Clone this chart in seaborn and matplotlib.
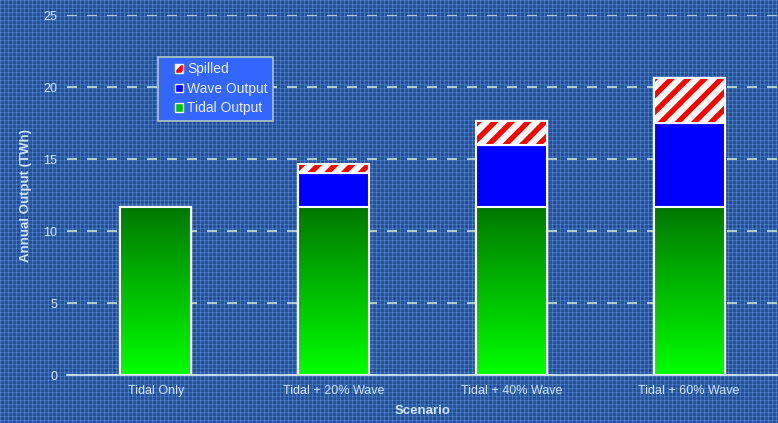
import numpy as np
import pandas as pd
import matplotlib
matplotlib.use("Agg")
import matplotlib.pyplot as plt
import matplotlib.patches as mpatches
from matplotlib.legend_handler import HandlerPatch
import seaborn as sns

scenarios = ["Tidal Only", "Tidal + 20% Wave", "Tidal + 40% Wave", "Tidal + 60% Wave"]
tidal = [11.65, 11.65, 11.65, 11.65]
wave = [0.0, 2.4, 4.35, 5.85]
spilled = [0.0, 0.6, 1.65, 3.1]
yticks = [0, 5, 10, 15, 20, 25]

sns.set_theme(style="white")
plt.rcParams['font.family'] = ['Liberation Sans', 'DejaVu Sans']
plt.rcParams['hatch.linewidth'] = 3.8
plt.rcParams['hatch.color'] = '#ff0000'

txt = '#cfe3f2'
W, H = 778, 423
fig = plt.figure(figsize=(W / 100, H / 100), dpi=100)

# textured blue background
yy, xx = np.mgrid[0:H, 0:W]
base = np.array([40, 82, 150], dtype=float)
img = np.tile(base, (H, W, 1))
img[(xx % 4 == 0)] += [25, 30, 35]
img[(yy % 4 == 0)] += [20, 25, 30]
img[(xx % 8 == 2) & (yy % 8 == 2)] -= [25, 35, 50]
img = np.clip(img, 0, 255).astype(np.uint8)
fig.figimage(img, xo=0, yo=0, zorder=-10)
fig.patch.set_alpha(0)

ax = fig.add_axes([67 / W, 48 / H, 1 - 67 / W, (375 - 15) / H])
ax.set_facecolor('none')

df = pd.DataFrame({
    "Scenario": scenarios,
    "total": np.array(tidal) + np.array(wave) + np.array(spilled),
    "tw": np.array(tidal) + np.array(wave),
    "tidal": tidal,
    "spilled": spilled,
})

sns.barplot(data=df, x="Scenario", y="total", color="white", saturation=1,
            width=0.4, edgecolor="white", linewidth=1.5, ax=ax)
sns.barplot(data=df, x="Scenario", y="tw", color="#0000ff", saturation=1,
            width=0.4, edgecolor="white", linewidth=1.5, ax=ax)
sns.barplot(data=df, x="Scenario", y="tidal", color="#00aa00", saturation=1,
            width=0.4, edgecolor="white", linewidth=1.5, ax=ax)

# red diagonal hatch on the spilled segment only
for p, base_v, sp in zip(ax.containers[0].patches, df["tw"], df["spilled"]):
    if sp <= 0:
        continue
    hp = mpatches.Rectangle((p.get_x(), base_v), p.get_width(), sp,
                            facecolor='none', edgecolor='#ff0000', linewidth=0,
                            hatch='//', zorder=p.get_zorder() + 0.05)
    hp.set_clip_path(p)
    ax.add_patch(hp)
    outline = mpatches.Rectangle((p.get_x(), base_v), p.get_width(), sp,
                                 facecolor='none', edgecolor='white', linewidth=1.5,
                                 zorder=p.get_zorder() + 0.06)
    ax.add_patch(outline)

# gradient on tidal bars
grad = np.linspace(0, 1, 256).reshape(-1, 1)
cmap = matplotlib.colors.LinearSegmentedColormap.from_list("g", ["#00ff00", "#007800"])
for p in ax.containers[2].patches:
    x0, y0 = p.get_x(), p.get_y()
    w, h = p.get_width(), p.get_height()
    im = ax.imshow(grad, cmap=cmap, aspect='auto', origin='lower',
                   extent=[x0, x0 + w, y0, y0 + h], zorder=p.get_zorder() + 0.1)
    im.set_clip_path(p)
    p.set_zorder(p.get_zorder() + 0.2)
    p.set_facecolor('none')

ax.set_xlim(-0.5, 3.5)
ax.set_ylim(0, 25)
ax.set_yticks(yticks)
ax.set_yticklabels([str(v) for v in yticks])
ax.yaxis.grid(True, color='#c8e6d2', linestyle=(0, (6, 6)), linewidth=1.2)
ax.set_axisbelow(True)
for s in ['top', 'right', 'left']:
    ax.spines[s].set_visible(False)
ax.spines['bottom'].set_color('#d8ecf5')
ax.spines['bottom'].set_linewidth(1.2)
ax.tick_params(axis='both', length=0, colors=txt, labelsize=9)
ax.tick_params(axis='y', pad=7)
ax.tick_params(axis='x', pad=7)
ax.set_xlabel("Scenario", color=txt, fontsize=9.5, fontweight='bold', labelpad=6)
ax.set_ylabel("Annual Output (TWh)", color=txt, fontsize=9.5, fontweight='bold', labelpad=8)


class SquareHandler(HandlerPatch):
    def create_artists(self, legend, orig_handle, xdescent, ydescent, width, height,
                       fontsize, trans):
        s = 0.62 * fontsize
        x = width - s - xdescent
        y = -ydescent + (height - s) / 2
        arts = [mpatches.Rectangle((x, y), s, s, facecolor=orig_handle.get_facecolor(),
                                   edgecolor='none', linewidth=0, transform=trans)]
        if orig_handle.get_hatch():
            arts.append(mpatches.Rectangle((x, y), s, s, facecolor='none',
                                           edgecolor='#ff0000', linewidth=0,
                                           hatch=orig_handle.get_hatch(), transform=trans))
        arts.append(mpatches.Rectangle((x, y), s, s, facecolor='none',
                                       edgecolor='white', linewidth=1.0, transform=trans))
        return arts


h_sp = mpatches.Patch(facecolor='white', hatch='//', label="Spilled")
h_wv = mpatches.Patch(facecolor='#0000ff', label="Wave Output")
h_td = mpatches.Patch(facecolor='#00c000', label="Tidal Output")

leg = ax.legend(handles=[h_sp, h_wv, h_td], loc='upper left',
                bbox_to_anchor=(158 / W, 1 - 57 / H), bbox_transform=fig.transFigure,
                frameon=True, fancybox=False, facecolor='#3366ff', edgecolor='#b0c8c0',
                fontsize=10, labelcolor='#e8f0ff', handlelength=1.45, handleheight=0.7,
                handletextpad=0.25, borderpad=0.38, labelspacing=0.4, framealpha=1,
                borderaxespad=0, handler_map={mpatches.Patch: SquareHandler()})
leg.get_frame().set_linewidth(1.2)

fig.savefig("out.png", dpi=100)
